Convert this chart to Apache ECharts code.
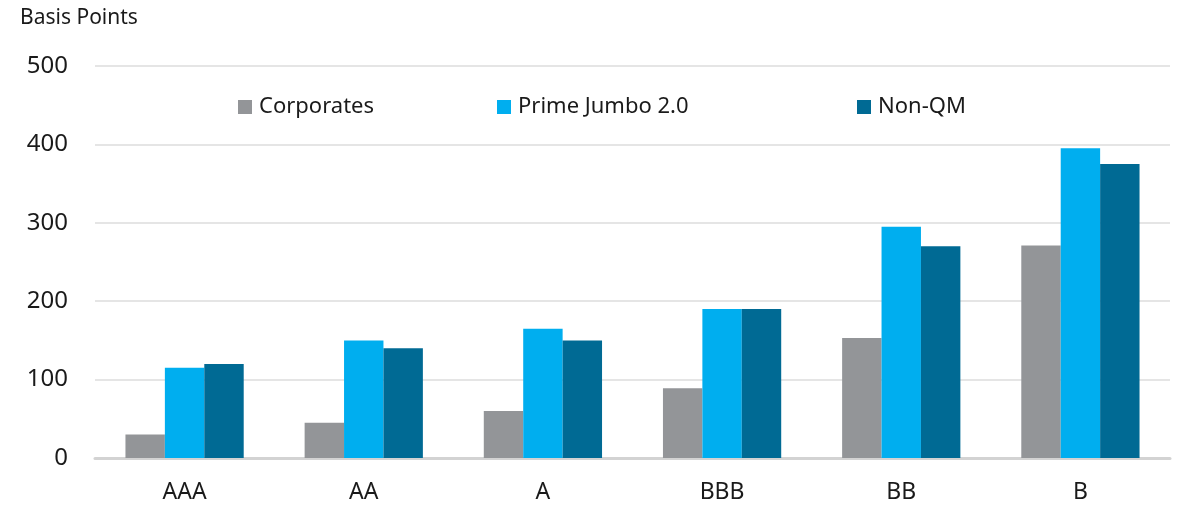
<!DOCTYPE html>
<html>
<head>
<meta charset="utf-8">
<script src="https://cdn.jsdelivr.net/npm/echarts@6/dist/echarts.min.js"></script>
<style>
  html, body { margin: 0; padding: 0; background: #fff; }
  #chart { width: 1185px; height: 507px; }
</style>
</head>
<body>
<div id="chart"></div>
<script>
// Spread by rating bucket, in basis points
const ratings = ['AAA', 'AA', 'A', 'BBB', 'BB', 'B'];
const corporates = [30, 45, 60, 89, 153, 271];
const primeJumbo = [115, 150, 165, 190, 295, 395];
const nonQM = [120, 140, 150, 190, 270, 375];
const seriesNames = ['Corporates', 'Prime Jumbo 2.0', 'Non-QM'];
const seriesColors = ['#939598', '#00AEEF', '#006A94'];

const FONT = '"Noto Sans", "Open Sans", sans-serif';
const chart = echarts.init(document.getElementById('chart'));

// one legend block per series so each can sit at its own horizontal spot
const legendLefts = [233, 492, 852];
const legends = seriesNames.map((name, i) => ({
  data: [name],
  left: legendLefts[i],
  top: 91,
  itemWidth: 14,
  itemHeight: 14,
  itemGap: 0,
  icon: 'rect',
  textStyle: { fontFamily: FONT, fontSize: 22, color: '#1a1a1a', padding: [0, 0, 0, 2] }
}));

chart.setOption({
  animation: false,
  backgroundColor: '#fff',
  title: {
    text: 'Basis Points',
    left: 15,
    top: 3,
    textStyle: { fontFamily: FONT, fontSize: 21, fontWeight: 'normal', color: '#1a1a1a' }
  },
  legend: legends,
  grid: { left: 95, right: 15, top: 66, bottom: 49 },
  xAxis: {
    type: 'category',
    data: ratings,
    axisLine: { lineStyle: { color: '#d3d3d3', width: 3 } },
    axisTick: { show: false },
    axisLabel: { fontFamily: FONT, fontSize: 23, color: '#1a1a1a', margin: 23 }
  },
  yAxis: {
    type: 'value',
    min: 0,
    max: 500,
    interval: 100,
    axisLine: { show: false },
    axisTick: { show: false },
    splitLine: { lineStyle: { color: '#dcdcdc', width: 1.5 } },
    axisLabel: { fontFamily: FONT, fontSize: 24, color: '#1a1a1a', margin: 27 }
  },
  series: [corporates, primeJumbo, nonQM].map((vals, i) => ({
    name: seriesNames[i],
    type: 'bar',
    data: vals,
    barGap: '0%',
    barCategoryGap: '34%',
    itemStyle: { color: seriesColors[i] }
  }))
});
</script>
</body>
</html>
